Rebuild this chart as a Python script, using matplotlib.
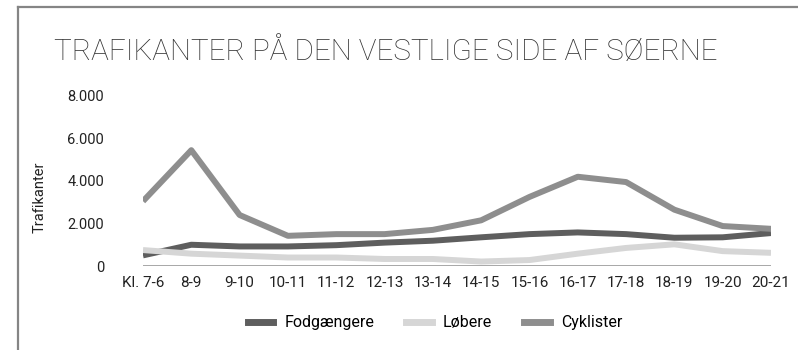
import matplotlib
matplotlib.use("Agg")
import matplotlib.pyplot as plt
from matplotlib.lines import Line2D
from matplotlib.ticker import FuncFormatter

# Hourly counts of road users on the western side of the lakes
hours = ["Kl. 7-6", "8-9", "9-10", "10-11", "11-12", "12-13", "13-14",
         "14-15", "15-16", "16-17", "17-18", "18-19", "19-20", "20-21"]
fodgaengere = [500, 1000, 920, 920, 980, 1100, 1190, 1350, 1500, 1580, 1500, 1330, 1350, 1550]
loebere = [750, 580, 490, 400, 400, 330, 330, 210, 280, 580, 850, 1020, 700, 620]
cyklister = [3050, 5450, 2400, 1420, 1500, 1500, 1700, 2150, 3250, 4200, 3950, 2650, 1880, 1750]

series = [("Fodgængere", fodgaengere, "#5e5e5e"),
          ("Løbere", loebere, "#d6d6d6"),
          ("Cyklister", cyklister, "#8e8e8e")]

plt.rcParams["font.family"] = ["Roboto", "DejaVu Sans"]

fig = plt.figure(figsize=(7.98, 3.5), dpi=100)
W, H = 798, 350
ax = fig.add_axes([143 / W, (H - 266) / H, (771 - 143) / W, (266 - 96) / H])

x = range(len(hours))
for name, vals, col in series:
    ax.plot(x, vals, color=col, lw=4.3, label=name, solid_capstyle="butt",
            solid_joinstyle="round")

ax.axhline(0, color="#a0a0a0", lw=1.3, zorder=0)
ax.set_xlim(0, len(hours) - 1)
ax.set_ylim(0, 8000)
ax.set_yticks([0, 2000, 4000, 6000, 8000])
ax.yaxis.set_major_formatter(FuncFormatter(lambda v, p: f"{int(v):,}".replace(",", ".")))
ax.set_xticks(list(x))
ax.set_xticklabels(hours)
ax.tick_params(axis="both", length=0, labelsize=10.5, colors="#222222")
ax.tick_params(axis="x", labelsize=11)
ax.tick_params(axis="y", pad=28)
ax.tick_params(axis="x", pad=7)
for s in ax.spines.values():
    s.set_visible(False)

fig.text(40 / W, 1 - 197 / H, "Trafikanter", rotation=90, ha="center", va="center",
         fontsize=10.5, color="#222222")

fig.text(54 / W, 1 - 52 / H, "TRAFIKANTER PÅ DEN VESTLIGE SIDE AF SØERNE",
         fontsize=21.3, fontweight="light", color="#333333", ha="left", va="center")

handles = [Line2D([], [], color=c, lw=5) for _, _, c in series]
fig.legend(handles, [n for n, _, _ in series], loc="center",
           bbox_to_anchor=(435 / W, 1 - 323 / H), ncol=3, frameon=False,
           fontsize=11.5, handlelength=1.6, columnspacing=2.0, handletextpad=0.7)

# Border lines along the top and left edges
fig.add_artist(Line2D([18 / W, 18 / W], [0, 1 - 6.5 / H], color="#858585", lw=1.6,
                      transform=fig.transFigure))
fig.add_artist(Line2D([18 / W, 1], [1 - 6.5 / H, 1 - 6.5 / H], color="#858585", lw=1.6,
                      transform=fig.transFigure))

fig.savefig("out.png", dpi=100, facecolor="white")
